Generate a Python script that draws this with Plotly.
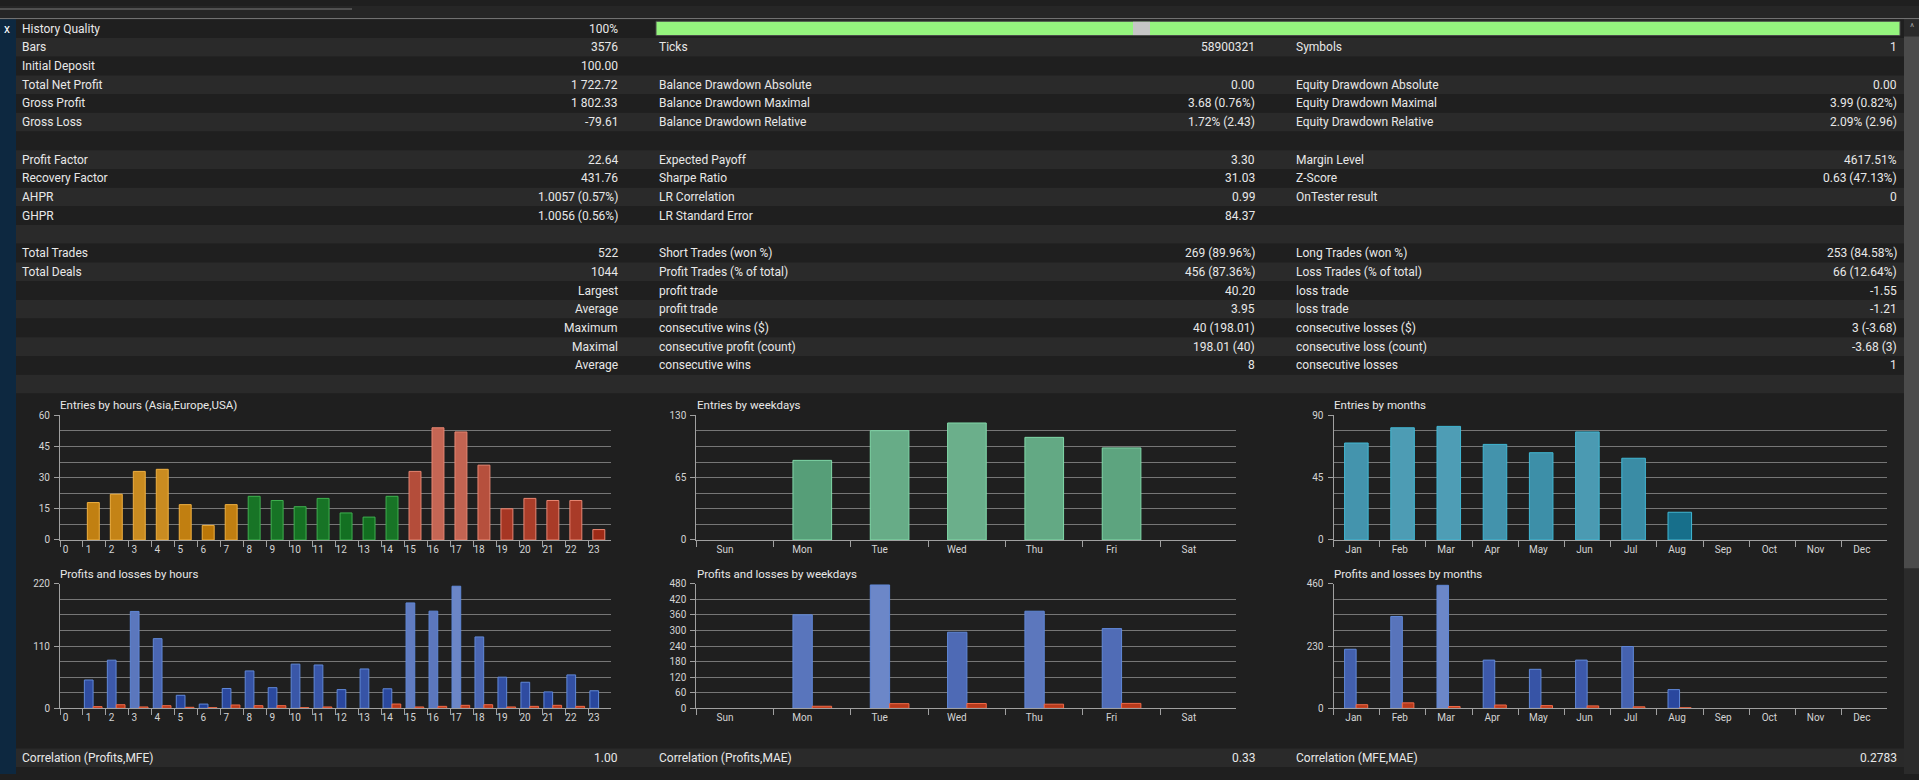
import plotly.graph_objects as go

#  Canvas size of the tester report
W, H = 1919, 780

#  Summary table: three label / value column pairs, one entry per row
col1_labels = ['History Quality', 'Bars', 'Initial Deposit', 'Total Net Profit', 'Gross Profit', 'Gross Loss', '',
               'Profit Factor', 'Recovery Factor', 'AHPR', 'GHPR', '',
               'Total Trades', 'Total Deals', '', '', '', '', '', '']
col1_values = ['100%', '3576', '100.00', '1 722.72', '1 802.33', '-79.61', '',
               '22.64', '431.76', '1.0057 (0.57%)', '1.0056 (0.56%)', '',
               '522', '1044', 'Largest', 'Average', 'Maximum', 'Maximal', 'Average', '']
col2_labels = ['', 'Ticks', '', 'Balance Drawdown Absolute', 'Balance Drawdown Maximal', 'Balance Drawdown Relative', '',
               'Expected Payoff', 'Sharpe Ratio', 'LR Correlation', 'LR Standard Error', '',
               'Short Trades (won %)', 'Profit Trades (% of total)', 'profit trade', 'profit trade',
               'consecutive wins ($)', 'consecutive profit (count)', 'consecutive wins', '']
col2_values = ['', '58900321', '', '0.00', '3.68 (0.76%)', '1.72% (2.43)', '',
               '3.30', '31.03', '0.99', '84.37', '',
               '269 (89.96%)', '456 (87.36%)', '40.20', '3.95', '40 (198.01)', '198.01 (40)', '8', '']
col3_labels = ['', 'Symbols', '', 'Equity Drawdown Absolute', 'Equity Drawdown Maximal', 'Equity Drawdown Relative', '',
               'Margin Level', 'Z-Score', 'OnTester result', '', '',
               'Long Trades (won %)', 'Loss Trades (% of total)', 'loss trade', 'loss trade',
               'consecutive losses ($)', 'consecutive loss (count)', 'consecutive losses', '']
col3_values = ['', '1', '', '0.00', '3.99 (0.82%)', '2.09% (2.96)', '',
               '4617.51%', '0.63 (47.13%)', '0', '', '',
               '253 (84.58%)', '66 (12.64%)', '-1.55', '-1.21', '3 (-3.68)', '-3.68 (3)', '1', '']

corr_labels = ['Correlation (Profits,MFE)', 'Correlation (Profits,MAE)', 'Correlation (MFE,MAE)']
corr_values = ['1.00', '0.33', '0.2783']

history_quality = 100

#  Distribution charts
hours = ['0', '1', '2', '3', '4', '5', '6', '7', '8', '9', '10', '11',
         '12', '13', '14', '15', '16', '17', '18', '19', '20', '21', '22', '23']
hour_session = ['Asia', 'Asia', 'Asia', 'Asia', 'Asia', 'Asia', 'Asia', 'Asia',
                'Europe', 'Europe', 'Europe', 'Europe', 'Europe', 'Europe', 'Europe',
                'USA', 'USA', 'USA', 'USA', 'USA', 'USA', 'USA', 'USA', 'USA']
entries_by_hour = [0, 18, 22, 33, 34, 17, 7, 17, 21, 19, 16, 20, 13, 11, 21, 33, 54, 52, 36, 15, 20, 19, 19, 5]
profit_by_hour = [0, 50, 85, 171, 123, 23, 7.5, 35, 66, 36.5, 78, 76.5, 33, 69.5, 34.5,
                  186, 171.5, 215.5, 126, 55, 46, 29, 59, 31]
loss_by_hour = [0, 3.0, 6.4, 2.4, 4.7, 1.8, 1.2, 5.9, 4.7, 4.7, 1.2, 2.4, 0, 0, 7.6,
                2.4, 3.5, 5.3, 6.4, 2.4, 3.5, 5.3, 3.5, 0]

weekdays = ['Sun', 'Mon', 'Tue', 'Wed', 'Thu', 'Fri', 'Sat']
entries_by_weekday = [0, 83, 114, 122, 107, 96, 0]
profit_by_weekday = [0, 360, 475, 293, 374, 307, 0]
loss_by_weekday = [0, 8, 18, 18.5, 16, 19, 0]

months = ['Jan', 'Feb', 'Mar', 'Apr', 'May', 'Jun', 'Jul', 'Aug', 'Sep', 'Oct', 'Nov', 'Dec']
entries_by_month = [70, 81, 82, 69, 63, 78, 59, 20, 0, 0, 0, 0]
profit_by_month = [218, 339, 454, 178, 144, 178, 228, 69, 0, 0, 0, 0]
loss_by_month = [13.4, 20.2, 6.8, 12.3, 10, 9, 5.5, 2.2, 0, 0, 0, 0]

#  Look
FONT = 'Roboto'
TEXT = '#e8e8e8'
TICK = '#d4d4d4'
DARK = '#1f1f1f'
LIGHT = '#2a2a2a'
GRID = '#767676'
AXIS = '#a0a0a0'

session_style = {
    'Asia':   (['#b87200', '#f4c870'], '#f0b040'),
    'Europe': (['#0c681a', '#4cab5c'], '#3fb04f'),
    'USA':    (['#9a2410', '#f4b0a0'], '#e88672'),
}
weekday_style = (['#2a7a50', '#aee6c8'], '#80d8a8')
month_style = (['#05607e', '#9edff0'], '#40b8d4')
profit_style = (['#1e3c96', '#b4ccf6'], '#6088d8')
loss_fill, loss_line = '#b83a1c', '#f06a48'

ROW_H = 19
ROW_TOP = 13.5


def fx(px):
    return px / W


def fy(py):
    return 1 - py / H


shapes = []
annotations = []


def rect(x0, y0, x1, y1, color, line=None):
    shapes.append(dict(type='rect', xref='paper', yref='paper', layer='below',
                       x0=fx(x0), x1=fx(x1), y0=fy(y1), y1=fy(y0),
                       fillcolor=color, line=dict(width=1 if line else 0, color=line or color)))


def text(x, y, s, anchor='left', size=12, color=TEXT):
    if s == '':
        return
    annotations.append(dict(x=fx(x), y=fy(y), xref='paper', yref='paper', text=s, showarrow=False,
                            xanchor=anchor, yanchor='middle',
                            font=dict(family=FONT, size=size, color=color)))


#  Window chrome: top strip, left panel strip, scrollbar
rect(0, 0, W, 12.5, '#262626')
rect(0, 2.5, 352, 3.5, '#7a7a7a')
rect(0, 12.5, W, 13.5, '#8c8c8c')
rect(0, 13.5, 16, H, '#0d2840')
rect(1904, 13.5, W, H, '#2b2b2b')
rect(1904, 31, W, 571, '#4b4b4b')
text(7, 23, 'x', anchor='center', size=12, color='#ffffff')
text(1911.5, 22, '^', anchor='center', size=10, color='#9a9a9a')

#  Summary table rows
table_cols = [(col1_labels, col1_values, 20, 619.5),
              (col2_labels, col2_values, 657, 1257),
              (col3_labels, col3_values, 1294, 1899)]
for k in range(len(col1_labels)):
    y0 = ROW_TOP + k * ROW_H
    rect(16, y0, 1904, y0 + ROW_H, DARK if k % 2 == 0 else LIGHT)
    for labels, values, lx, vx in table_cols:
        text(lx, y0 + ROW_H / 2, labels[k])
        text(vx, y0 + ROW_H / 2, values[k], anchor='right')

#  History quality bar spans the second and third column pairs
bar_x0, bar_x1 = 656, 1900
rect(bar_x0, 15.5, bar_x0 + (bar_x1 - bar_x0) * history_quality / 100, 30, '#95f47e', line='#4a4a4a')
rect(1133, 16, 1150, 29.5, '#c6c6c6')

#  Chart area and correlation row
chart_top = ROW_TOP + len(col1_labels) * ROW_H
rect(16, chart_top, 1904, 754, DARK)
rect(16, 754, 1904, 773, LIGHT)
for (lbl, val), (lx, vx) in zip(zip(corr_labels, corr_values), [(20, 619.5), (657, 1257), (1294, 1899)]):
    text(lx, 763.5, lbl)
    text(vx, 763.5, val, anchor='right')

#  Chart frames in pixels: (left, right) per column, (top, bottom) per row
chart_cols = [(60, 611), (696.3, 1236), (1333.5, 1887)]
chart_rows = [(415.7, 542.3), (586.7, 713.3)]
titles = [['Entries by hours (Asia,Europe,USA)', 'Profits and losses by hours'],
          ['Entries by weekdays', 'Profits and losses by weekdays'],
          ['Entries by months', 'Profits and losses by months']]
title_x = [58, 695, 1332]
title_y = [405.7, 577]

fig = go.Figure()
layout_axes = {}


def axes(idx, col, row, cats, top, labelled, shift):
    left, right = chart_cols[col]
    ptop, pbottom = chart_rows[row]
    name = '' if idx == 1 else str(idx)
    step = top / 8
    layout_axes['xaxis' + name] = dict(
        domain=[fx(left), fx(right)], anchor='y' + name, type='category',
        categoryorder='array', categoryarray=cats,
        range=[-0.5, len(cats) - 0.52], tickson='boundaries',
        ticks='outside', ticklen=6, tickcolor=AXIS, tickangle=0,
        showline=True, linecolor=AXIS, linewidth=1, showgrid=False, zeroline=False,
        ticklabelshift=shift, tickfont=dict(family=FONT, size=10, color=TICK), fixedrange=True)
    layout_axes['yaxis' + name] = dict(
        domain=[fy(pbottom), fy(ptop)], anchor='x' + name, range=[0, top],
        tickvals=labelled, ticks='outside', ticklen=5, tickcolor=AXIS,
        showgrid=True, gridcolor=GRID, gridwidth=1,
        minor=dict(tickvals=[step * i for i in range(9)], showgrid=True, gridcolor=GRID, gridwidth=1, ticks=''),
        showline=True, linecolor=AXIS, linewidth=1, zeroline=False,
        ticklabelstandoff=2, tickfont=dict(family=FONT, size=10, color=TICK), fixedrange=True)
    text(title_x[col], title_y[row], titles[col][row], size=11.5)
    return 'x' + name, 'y' + name


def bars(xa, ya, cats, vals, style, top, width, offset):
    scale, line = style
    fig.add_trace(go.Bar(x=cats, y=vals, xaxis=xa, yaxis=ya, width=width, offset=offset,
                         marker=dict(color=vals, colorscale=[[0, scale[0]], [1, scale[1]]],
                                     cmin=0, cmax=top * 1.9,
                                     line=dict(color=line, width=[1 if v else 0 for v in vals])),
                         showlegend=False, hoverinfo='x+y'))


def loss_bars(xa, ya, cats, vals, width, offset):
    fig.add_trace(go.Bar(x=cats, y=vals, xaxis=xa, yaxis=ya, width=width, offset=offset,
                         marker=dict(color=loss_fill,
                                     line=dict(color=loss_line, width=[1 if v else 0 for v in vals])),
                         showlegend=False, hoverinfo='x+y'))


#  Entries by hours, one trace per trading session
xa, ya = axes(1, 0, 0, hours, 60, [0, 15, 30, 45, 60], -6)
for session, style in session_style.items():
    sel = [i for i, s in enumerate(hour_session) if s == session]
    bars(xa, ya, [hours[i] for i in sel], [entries_by_hour[i] for i in sel], style, 60, 0.52, -0.31)

#  Profits and losses by hours
xa, ya = axes(2, 0, 1, hours, 220, [0, 110, 220], -6)
bars(xa, ya, hours, profit_by_hour, profit_style, 220, 0.38, -0.44)
loss_bars(xa, ya, hours, loss_by_hour, 0.38, -0.05)

#  Entries by weekdays
xa, ya = axes(3, 1, 0, weekdays, 130, [0, 65, 130], -10)
bars(xa, ya, weekdays, entries_by_weekday, weekday_style, 130, 0.5, -0.25)

#  Profits and losses by weekdays
xa, ya = axes(4, 1, 1, weekdays, 480, [60 * i for i in range(9)], -10)
bars(xa, ya, weekdays, profit_by_weekday, profit_style, 480, 0.25, -0.25)
loss_bars(xa, ya, weekdays, loss_by_weekday, 0.25, 0)

#  Entries by months
xa, ya = axes(5, 2, 0, months, 90, [0, 45, 90], -3)
bars(xa, ya, months, entries_by_month, month_style, 90, 0.51, -0.26)

#  Profits and losses by months
xa, ya = axes(6, 2, 1, months, 460, [0, 230, 460], -3)
bars(xa, ya, months, profit_by_month, profit_style, 460, 0.25, -0.26)
loss_bars(xa, ya, months, loss_by_month, 0.25, -0.01)

fig.update_layout(
    width=W, height=H, margin=dict(l=0, r=0, t=0, b=0),
    paper_bgcolor=DARK, plot_bgcolor='rgba(0,0,0,0)',
    barmode='overlay', showlegend=False,
    font=dict(family=FONT, size=11, color=TEXT),
    shapes=shapes, annotations=annotations, **layout_axes)

fig.write_html("out.html", config={'displayModeBar': False},
               post_script="document.body.style.margin='0';document.body.style.overflow='hidden';"
                           "document.body.style.background='#1f1f1f';")
